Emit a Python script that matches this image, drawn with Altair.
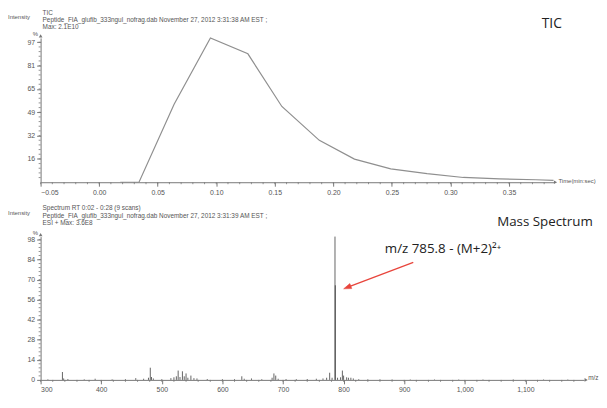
import altair as alt
import pandas as pd

# ---------------- data ----------------
tic_time = [0.018, 0.034, 0.064, 0.095, 0.127, 0.156, 0.188, 0.218, 0.249, 0.280, 0.311, 0.342, 0.373, 0.388]
tic_pct = [0, 0, 54, 100, 89, 52.5, 29, 16, 9.3, 6.0, 3.3, 2.3, 1.7, 1.3]

ms_mz = [312, 336, 338, 345, 372, 390, 418, 440, 457, 470, 478, 481, 483, 486, 500,
         515, 520, 524, 527, 530, 534, 537, 540, 543, 548, 553, 558, 575, 600, 620,
         632, 636, 648, 665, 682, 685, 688, 692, 705, 722, 740, 755, 766, 772, 777,
         781, 785.8, 786.3, 790, 795, 798, 800, 805, 808, 812, 816, 825, 840, 860,
         880, 910, 950, 990, 1030, 1080, 1130, 1170]
ms_int = [0.4, 5.5, 1.0, 0.6, 0.4, 0.8, 0.4, 0.5, 1.2, 0.8, 1.5, 8.5, 2.0, 1.0, 0.5,
          1.2, 1.8, 2.5, 6.5, 2.0, 6.0, 2.5, 4.5, 1.5, 3.0, 1.2, 1.0, 0.6, 0.5, 0.5,
          2.5, 0.8, 1.0, 0.5, 1.5, 4.5, 3.0, 0.8, 0.6, 0.5, 0.6, 0.8, 1.0, 1.5, 5.0,
          1.5, 100, 66, 1.5, 1.8, 6.5, 3.0, 1.8, 1.5, 1.5, 1.0, 0.5, 0.4, 0.4,
          0.3, 0.3, 0.3, 0.3, 0.3, 0.3, 0.3, 0.3]

tic_x_ticks = [-0.05, 0.0, 0.05, 0.10, 0.15, 0.20, 0.25, 0.30, 0.35]
tic_y_ticks = [16.17, 32.33, 48.5, 64.67, 80.83, 97.0]
ms_x_ticks = [300, 400, 500, 600, 700, 800, 900, 1000, 1100]
ms_y_ticks = [0, 14, 28, 42, 56, 70, 84, 98]

tic_x_minor = [round(-0.05 + 0.01 * i, 3) for i in range(44)]
tic_y_minor = [round(97 / 30 * i, 2) for i in range(1, 31)]
ms_x_minor = [300 + 20 * i for i in range(45)]
ms_y_minor = [round(2.8 * i, 1) for i in range(1, 36)]

# annotation anchor points (data coordinates)
arrow_mz = [915, 806]
arrow_int = [82, 64.5]
label_mz = [868]
label_int = [91]

# ---------------- layout ----------------
W1, H1 = 519, 146
W2, H2 = 550, 145
AX = "#777"
LAB = "#555"
FONT = "Liberation Sans"
BIG = "Open Sans"
RED = "#e8453c"

one = alt.Data(values=[{}])


def txt(s, x, y, size=6.5, color=LAB, font=FONT, align="left"):
    return alt.Chart(one).mark_text(
        text=s, align=align, baseline="middle", fontSize=size, color=color, font=font
    ).encode(x=alt.value(x), y=alt.value(y))


def arrowhead(x, y, shape):
    return alt.Chart(one).mark_point(
        shape=shape, filled=True, size=14, color=AX, opacity=1
    ).encode(x=alt.value(x), y=alt.value(y))


# ---------- TIC panel ----------
X1 = alt.X("x:Q", scale=alt.Scale(domain=[-0.05, 0.388], nice=False, zero=False),
           axis=alt.Axis(values=tic_x_ticks, format=".2f", title=None, grid=False))
Y1 = alt.Y("y:Q", scale=alt.Scale(domain=[0, 100], nice=False, zero=False),
           axis=alt.Axis(values=tic_y_ticks, format=".0f", title=None, grid=False))

tic_df = pd.DataFrame({"x": tic_time, "y": tic_pct})

tic_line = alt.Chart(tic_df).mark_line(color="#8f8f8f", strokeWidth=1.2).encode(x=X1, y=Y1)
tic_xm = alt.Chart(pd.DataFrame({"x": tic_x_minor})).mark_rule(color=AX, strokeWidth=0.8).encode(
    x=X1, y=alt.value(H1), y2=alt.value(H1 + 2))
tic_ym = alt.Chart(pd.DataFrame({"y": tic_y_minor})).mark_rule(color=AX, strokeWidth=0.8).encode(
    y=Y1, x=alt.value(-2), x2=alt.value(0))

top = alt.layer(
    tic_line, tic_xm, tic_ym,
    arrowhead(0, -2, "triangle-up"),
    arrowhead(W1 + 2, H1, "triangle-right"),
    txt("Intensity", -33, -21, size=6),
    txt("TIC", 2, -25),
    txt("Peptide_FIA_glufib_333ngul_nofrag.dab November 27, 2012 3:31:38 AM EST ;", 2, -18),
    txt("Max: 2.1E10", 2, -11),
    txt("%", -8, -4, size=6),
    txt("Time(min:sec)", W1 + 5, H1 - 1, size=6),
    txt("TIC", 507, -14, size=14, color="#222", font=BIG),
).properties(width=W1, height=H1)

# ---------- Mass spectrum panel ----------
X2 = alt.X("x:Q", scale=alt.Scale(domain=[300, 1197], nice=False, zero=False),
           axis=alt.Axis(values=ms_x_ticks, format=",d", title=None, grid=False))
Y2 = alt.Y("y:Q", scale=alt.Scale(domain=[0, 100], nice=False, zero=False),
           axis=alt.Axis(values=ms_y_ticks, format="d", title=None, grid=False))

ms_df = pd.DataFrame({"x": ms_mz, "y": ms_int})

ms_rules = alt.Chart(ms_df).mark_rule(color="#222", strokeWidth=1, opacity=0.7).encode(
    x=X2, y=Y2, y2=alt.datum(0))
ms_xm = alt.Chart(pd.DataFrame({"x": ms_x_minor})).mark_rule(color=AX, strokeWidth=0.8).encode(
    x=X2, y=alt.value(H2), y2=alt.value(H2 + 2))
ms_ym = alt.Chart(pd.DataFrame({"y": ms_y_minor})).mark_rule(color=AX, strokeWidth=0.8).encode(
    y=Y2, x=alt.value(-2), x2=alt.value(0))

arrow_df = pd.DataFrame({"x": arrow_mz, "y": arrow_int})
tip_df = pd.DataFrame({"x": arrow_mz[1:], "y": arrow_int[1:]})
arrow_line = alt.Chart(arrow_df).mark_line(color=RED, strokeWidth=1.3).encode(x=X2, y=Y2)
arrow_tip = alt.Chart(tip_df).mark_point(
    shape="M0,-1L0.7,1L-0.7,1Z", filled=True, size=60, fill=RED, stroke=RED,
    strokeWidth=0.5, opacity=1, angle=249).encode(x=X2, y=Y2)
label = alt.Chart(pd.DataFrame({"x": label_mz, "y": label_int})).mark_text(
    text="m/z 785.8 - (M+2)²⁺", align="left", baseline="middle", fontSize=13.5,
    color="#222", font=BIG).encode(x=X2, y=Y2)

bot = alt.layer(
    ms_rules, ms_xm, ms_ym, arrow_line, arrow_tip, label,
    arrowhead(0, -2, "triangle-up"),
    arrowhead(W2 + 2, H2, "triangle-right"),
    txt("Intensity", -33, -24, size=6),
    txt("Spectrum RT 0:02 - 0:28 (9 scans)", 2, -29),
    txt("Peptide_FIA_glufib_333ngul_nofrag.dab November 27, 2012 3:31:39 AM EST ;", 2, -21),
    txt("ESI + Max: 3.6E8", 2, -14),
    txt("%", -8, -4, size=6),
    txt("m/z", W2 + 4, H2 - 2, size=6.5),
    txt("Mass Spectrum", 462, -15, size=13.5, color="#222", font=BIG),
).properties(width=W2, height=H2)

chart = alt.vconcat(top, bot, spacing=55, bounds="flush").properties(
    padding=0,
).configure_view(strokeWidth=0).configure_axis(
    domainColor=AX, tickColor=AX, labelColor=LAB, labelFont=FONT, labelFontSize=7,
    tickSize=4, labelPadding=2, grid=False, domainWidth=1, tickWidth=1,
)

chart.save("out.html", embed_options={"renderer": "svg", "actions": False})
